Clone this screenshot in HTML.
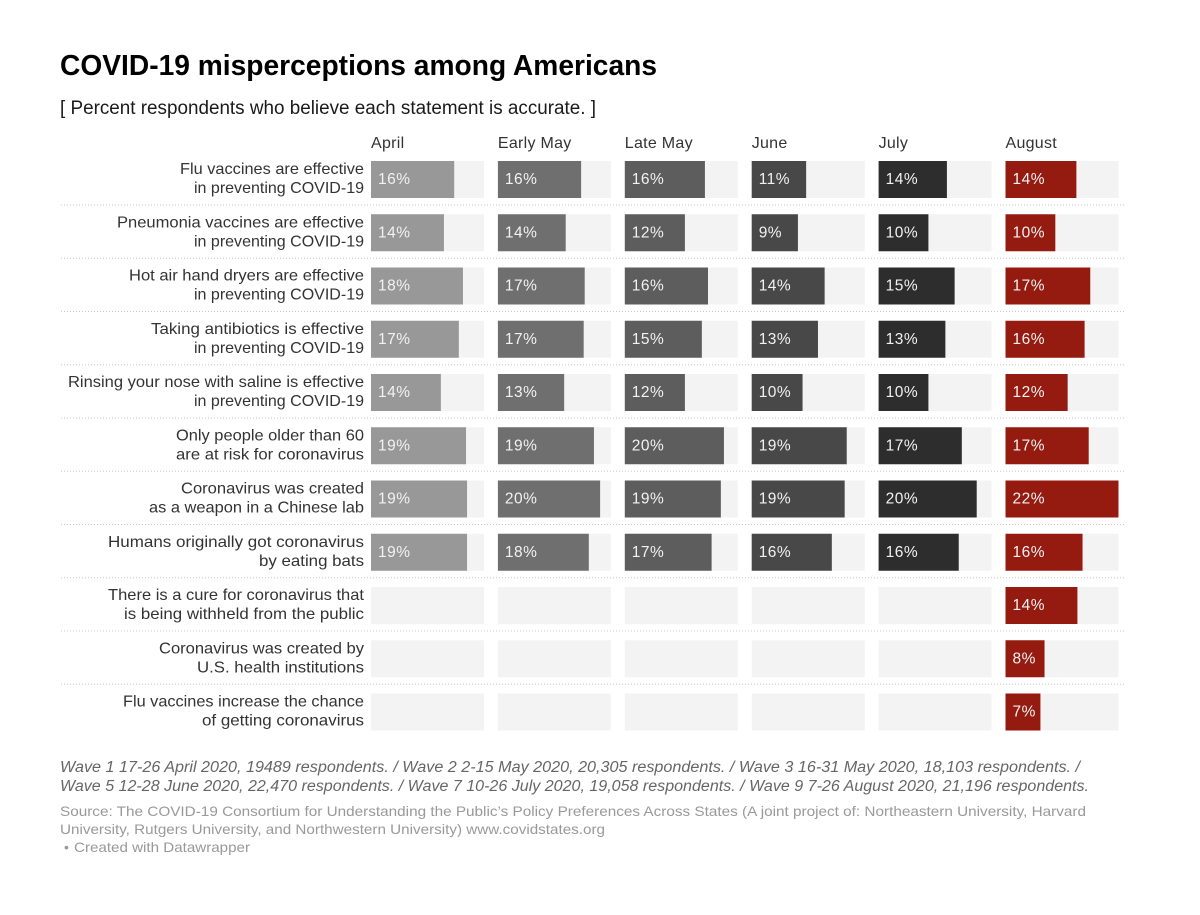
<!DOCTYPE html>
<html lang="en">
<head>
<meta charset="utf-8">
<title>COVID-19 misperceptions among Americans</title>
<style>
html,body{margin:0;padding:0;background:#fff;width:1200px;height:915px;overflow:hidden}
svg{display:block;font-family:"Liberation Sans",Arial,sans-serif}
.row-label{font-size:16px;fill:#333;text-anchor:end}
.col-label{font-size:16px;fill:#333;letter-spacing:.28px}
.val{font-size:15.5px;fill:#f2f2f2;letter-spacing:.5px}
.note{font-size:15.5px;font-style:italic;fill:#666}
.src{font-size:14px;fill:#999}
</style>
</head>
<body>
<svg id="chart" xmlns="http://www.w3.org/2000/svg" width="1200" height="915" viewBox="0 0 1200 915">
<rect width="1200" height="915" fill="#fff"/>
<text x="60" y="75" font-size="29px" font-weight="700" fill="#000" textLength="597" lengthAdjust="spacingAndGlyphs">COVID-19 misperceptions among Americans</text>
<text x="60" y="114" font-size="19px" fill="#1a1a1a" textLength="536" lengthAdjust="spacingAndGlyphs">[ Percent respondents who believe each statement is accurate. ]</text>
<g id="plot"></g>
<text class="note" x="60" y="772" textLength="1020" lengthAdjust="spacingAndGlyphs">Wave 1 17-26 April 2020, 19489 respondents. / Wave 2 2-15 May 2020, 20,305 respondents. / Wave 3 16-31 May 2020, 18,103 respondents. /</text>
<text class="note" x="60" y="791" textLength="1029" lengthAdjust="spacingAndGlyphs">Wave 5 12-28 June 2020, 22,470 respondents. / Wave 7 10-26 July 2020, 19,058 respondents. / Wave 9 7-26 August 2020, 21,196 respondents.</text>
<text class="src" x="60" y="816" textLength="1026" lengthAdjust="spacingAndGlyphs">Source: The COVID-19 Consortium for Understanding the Public’s Policy Preferences Across States (A joint project of: Northeastern University, Harvard</text>
<text class="src" x="60" y="834" textLength="545" lengthAdjust="spacingAndGlyphs">University, Rutgers University, and Northwestern University) www.covidstates.org</text>
<text class="src" x="64" y="852">•</text>
<text class="src" x="74" y="852" textLength="176" lengthAdjust="spacingAndGlyphs">Created with Datawrapper</text>
</svg>
<script>
const columns = ["April", "Early May", "Late May", "June", "July", "August"];
const columnColors = ["#989898", "#6f6f6f", "#5d5d5d", "#484848", "#2d2d2d", "#951b11"];
const statements = [
  ["Flu vaccines are effective", "in preventing COVID-19"],
  ["Pneumonia vaccines are effective", "in preventing COVID-19"],
  ["Hot air hand dryers are effective", "in preventing COVID-19"],
  ["Taking antibiotics is effective", "in preventing COVID-19"],
  ["Rinsing your nose with saline is effective", "in preventing COVID-19"],
  ["Only people older than 60", "are at risk for coronavirus"],
  ["Coronavirus was created", "as a weapon in a Chinese lab"],
  ["Humans originally got coronavirus", "by eating bats"],
  ["There is a cure for coronavirus that", "is being withheld from the public"],
  ["Coronavirus was created by", "U.S. health institutions"],
  ["Flu vaccines increase the chance", "of getting coronavirus"]
];
const seriesApril    = [16.2, 14.2, 17.9, 17.1, 13.6, 18.5, 18.7, 18.7, null, null, null];
const seriesEarlyMay = [16.2, 13.2, 16.9, 16.7, 12.9, 18.7, 19.9, 17.7, null, null, null];
const seriesLateMay  = [15.6, 11.7, 16.2, 15.0, 11.7, 19.3, 18.7, 16.9, null, null, null];
const seriesJune     = [10.6, 9.0, 14.2, 12.9, 9.9, 18.5, 18.1, 15.6, null, null, null];
const seriesJuly     = [13.3, 9.7, 14.8, 13.0, 9.7, 16.2, 19.1, 15.6, null, null, null];
const seriesAugust   = [13.8, 9.7, 16.5, 15.4, 12.1, 16.2, 22.0, 15.0, 14.0, 7.6, 6.8];
const printedApril    = ["16%", "14%", "18%", "17%", "14%", "19%", "19%", "19%", "", "", ""];
const printedEarlyMay = ["16%", "14%", "17%", "17%", "13%", "19%", "20%", "18%", "", "", ""];
const printedLateMay  = ["16%", "12%", "16%", "15%", "12%", "20%", "19%", "17%", "", "", ""];
const printedJune     = ["11%", "9%", "14%", "13%", "10%", "19%", "19%", "16%", "", "", ""];
const printedJuly     = ["14%", "10%", "15%", "13%", "10%", "17%", "20%", "16%", "", "", ""];
const printedAugust   = ["14%", "10%", "17%", "16%", "12%", "17%", "22%", "16%", "14%", "8%", "7%"];
const domainMax = 22;

const allSeries = [seriesApril, seriesEarlyMay, seriesLateMay, seriesJune, seriesJuly, seriesAugust];
const allPrinted = [printedApril, printedEarlyMay, printedLateMay, printedJune, printedJuly, printedAugust];

const NS = "http://www.w3.org/2000/svg";
const plot = document.getElementById("plot");
const panelWidth = 113;
const barHeight = 37;
const xPanel = function (c) { return 371 + c * 126.9; };
const yRow = function (r) { return 161 + r * 53.25; };
const xValue = function (v) { return v / domainMax * panelWidth; };

// Typesetting widths for the row labels, to match the original font's line lengths.
const lineWidths = new Map([
  ["Flu vaccines are effective", 184],
  ["in preventing COVID-19", 170],
  ["Pneumonia vaccines are effective", 247],
  ["Hot air hand dryers are effective", 235],
  ["Taking antibiotics is effective", 213],
  ["Rinsing your nose with saline is effective", 296],
  ["Only people older than 60", 188],
  ["are at risk for coronavirus", 188],
  ["Coronavirus was created", 183],
  ["as a weapon in a Chinese lab", 215],
  ["Humans originally got coronavirus", 256],
  ["by eating bats", 105],
  ["There is a cure for coronavirus that", 256],
  ["is being withheld from the public", 240],
  ["Coronavirus was created by", 205],
  ["U.S. health institutions", 167],
  ["Flu vaccines increase the chance", 241],
  ["of getting coronavirus", 162]
]);

function make(tag, attrs, text) {
  const el = document.createElementNS(NS, tag);
  Object.keys(attrs).forEach(function (k) { el.setAttribute(k, attrs[k]); });
  if (text !== undefined) el.textContent = text;
  plot.appendChild(el);
  return el;
}

columns.forEach(function (name, c) {
  const head = make("text", { x: xPanel(c), y: 148, "class": "col-label" }, name);
  
  
});

statements.forEach(function (lines, r) {
  const y = yRow(r);
  const first = make("text", { x: 364, y: y + 13, "class": "row-label", textLength: lineWidths.get(lines[0]), lengthAdjust: "spacingAndGlyphs" }, lines[0]);
  
  
  const second = make("text", { x: 364, y: y + 32, "class": "row-label", textLength: lineWidths.get(lines[1]), lengthAdjust: "spacingAndGlyphs" }, lines[1]);
  
  

  if (r < statements.length - 1) {
    const sep = make("line", { x1: 61, x2: 1125, y1: y + 44, y2: y + 44, stroke: "#c8c8c8", "stroke-width": 1, "stroke-dasharray": "1 2" });
    
    
  }

  columns.forEach(function (name, c) {
    const x = xPanel(c);
    const track = make("rect", { x: x, y: y, width: panelWidth, height: barHeight, fill: "#f3f3f3" });
    
    
    const v = allSeries[c][r];
    if (v === null) return;
    const bar = make("rect", { x: x, y: y, width: xValue(v), height: barHeight, fill: columnColors[c] });
    
    
    const label = make("text", { x: x + 7, y: y + 23, "class": "val" }, allPrinted[c][r]);
    
    
  });
});
</script>
</body>
</html>
